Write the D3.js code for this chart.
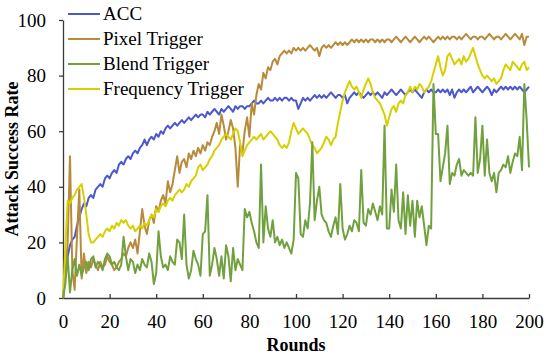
<!DOCTYPE html>
<html lang="en">

<head>
    <meta charset="UTF-8">
    <title>Attack Success Rate</title>
    <script src="https://d3js.org/d3.v7.min.js"></script>
    <style>
        body {
            margin: 0;
            background: #fff;
        }

        .axis text {
            font-family: "Liberation Serif", "Times New Roman", serif;
            font-size: 19px;
            fill: #000;
        }

        .axis path,
        .axis line {
            stroke: #3a3a3a;
            stroke-width: 1.3px;
        }

        .title {
            font-family: "Liberation Serif", "Times New Roman", serif;
            font-size: 18px;
            font-weight: bold;
        }

        .legend text {
            font-family: "Liberation Serif", "Times New Roman", serif;
            font-size: 19px;
        }

        .serie {
            fill: none;
            stroke-width: 2px;
            stroke-linejoin: round;
        }
    </style>
</head>

<body>
    <svg width="550" height="357"></svg>

    <script>
        // Datos (una posicion por ronda, 0..200)
        const xTicks = [0, 20, 40, 60, 80, 100, 120, 140, 160, 180, 200];
        const yTicks = [0, 20, 40, 60, 80, 100];

        const seriesNames = ["ACC", "Pixel Trigger", "Blend Trigger", "Frequency Trigger"];
        const seriesColors = ["#4b58cc", "#b78b3b", "#71a13e", "#d7d000"];

        const acc = [
            0, 8, 15, 19, 21, 22, 26, 29, 32, 34, 33, 36, 37, 36, 39, 40, 41, 40, 43, 44,
            43, 45, 46, 45, 48, 49, 48, 50, 51, 50, 52, 53, 52, 54, 55, 57, 55, 57, 58, 57,
            59, 58, 60, 59, 61, 62, 61, 62, 63, 62, 63, 64, 63, 64, 65, 64, 65, 66, 65, 66,
            66, 65, 67, 66, 67, 68, 67, 66, 68, 67, 68, 69, 68, 67, 69, 68, 69, 69, 68, 69,
            69, 70, 71, 70, 70, 71, 70, 71, 72, 71, 71, 72, 71, 72, 71, 72, 72, 71, 72, 71,
            71, 68, 70, 72, 71, 72, 71, 72, 73, 72, 73, 72, 73, 72, 73, 74, 73, 72, 73, 73,
            72, 73, 70, 72, 73, 74, 73, 74, 73, 72, 73, 74, 73, 74, 73, 74, 73, 72, 74, 73,
            74, 75, 74, 73, 74, 75, 74, 73, 74, 75, 74, 75, 74, 73, 72, 74, 75, 74, 75, 74,
            74, 75, 74, 75, 74, 75, 73, 75, 72, 74, 75, 74, 75, 74, 75, 76, 74, 75, 76, 75,
            74, 75, 76, 75, 73, 75, 74, 75, 76, 75, 76, 75, 76, 75, 76, 75, 76, 75, 74, 75,
            76
        ];

        const pixel = [
            0, 8, 20, 51, 10, 3, 22, 39, 7, 16, 9, 13, 11, 14, 12, 10, 13, 11, 12, 15,
            13, 12, 10, 11, 13, 14, 16, 15, 18, 20, 18, 21, 16, 24, 32, 26, 23, 28, 30, 27,
            33, 31, 35, 37, 34, 42, 38, 41, 46, 51, 45, 49, 50, 47, 52, 50, 53, 51, 54, 52,
            55, 53, 56, 55, 58, 60, 63, 59, 66, 62, 57, 60, 64, 61, 54, 40, 55, 52, 60, 65,
            58, 70, 66, 73, 77, 75, 81, 79, 83, 82, 85, 86, 84, 87, 88, 89, 88, 89, 88, 90,
            89, 90, 89, 90, 89, 90, 91, 90, 89, 90, 87, 90, 91, 90, 91, 90, 91, 92, 91, 92,
            91, 92, 91, 92, 93, 92, 93, 92, 93, 92, 93, 92, 93, 93, 92, 93, 92, 93, 92, 93,
            93, 92, 93, 94, 93, 92, 93, 94, 93, 92, 93, 94, 93, 92, 93, 94, 93, 94, 93, 92,
            93, 94, 93, 94, 93, 94, 93, 94, 94, 93, 94, 93, 94, 95, 94, 93, 94, 94, 93, 94,
            94, 93, 94, 95, 94, 93, 94, 94, 93, 94, 95, 94, 93, 94, 95, 94, 93, 95, 91, 94,
            94
        ];

        const blend = [
            0, 5, 15, 2, 10, 14, 8, 12, 8, 11, 13, 10, 14, 15, 11, 13, 12, 10, 14, 16,
            15, 12, 13, 11, 10, 12, 22, 15, 10, 14, 13, 9, 12, 10, 14, 12, 11, 16, 13, 5,
            9, 24, 15, 11, 12, 10, 15, 13, 12, 21, 20, 14, 30, 12, 7, 10, 17, 14, 12, 8,
            23, 24, 37, 8, 12, 18, 14, 8, 15, 7, 19, 15, 6, 18, 10, 14, 12, 10, 32, 29,
            31, 27, 24, 20, 18, 48, 20, 33, 25, 22, 28, 20, 22, 19, 21, 18, 20, 18, 16, 21,
            45, 43, 23, 22, 28, 25, 34, 56, 28, 35, 40, 30, 28, 27, 24, 22, 26, 29, 23, 41,
            25, 21, 23, 26, 24, 28, 27, 24, 46, 27, 26, 32, 30, 34, 31, 28, 33, 30, 62, 25,
            25, 39, 31, 48, 28, 25, 38, 23, 37, 26, 35, 22, 35, 29, 33, 26, 19, 26, 25, 77,
            59, 59, 42, 47, 52, 62, 41, 45, 44, 48, 50, 44, 46, 45, 44, 45, 44, 65, 45, 50,
            62, 44, 57, 45, 42, 45, 38, 45, 46, 48, 47, 51, 45, 49, 52, 51, 58, 46, 77, 64,
            47
        ];

        const frequency = [
            0, 18, 35, 34, 36, 37, 39, 40, 41, 36, 30, 23, 20, 20, 21, 22, 23, 22, 24, 25,
            24, 26, 25, 27, 26, 28, 27, 28, 26, 25, 26, 24, 25, 26, 25, 27, 26, 28, 30, 29,
            32, 31, 33, 34, 33, 35, 36, 35, 37, 38, 39, 38, 39, 41, 40, 42, 43, 44, 47, 48,
            46, 47, 48, 50, 51, 53, 54, 55, 57, 58, 59, 58, 57, 59, 61, 60, 56, 51, 53, 55,
            56, 57, 58, 57, 58, 59, 57, 58, 59, 60, 59, 58, 57, 55, 54, 55, 54, 56, 60, 63,
            61, 59, 60, 61, 60, 59, 57, 55, 54, 52, 53, 54, 56, 58, 57, 55, 57, 58, 63, 67,
            71, 74, 76, 78, 76, 75, 76, 74, 72, 75, 77, 79, 77, 74, 72, 71, 70, 68, 66, 62,
            65, 68, 69, 67, 70, 71, 70, 73, 74, 76, 74, 76, 75, 77, 76, 74, 75, 76, 78, 81,
            84, 87, 83, 80, 82, 87, 88, 86, 84, 85, 86, 84, 87, 85, 86, 88, 90, 87, 84, 82,
            80, 79, 80, 79, 78, 79, 77, 78, 79, 82, 84, 83, 82, 85, 84, 83, 82, 84, 85, 82,
            83
        ];

        // Orden de dibujo: Blend queda encima de todo
        const drawOrder = [0, 1, 3, 2];
        const allSeries = [acc, pixel, blend, frequency];

        const svg = d3.select("svg");

        // Escalas
        const x = d3.scaleLinear().domain([0, 200]).range([63, 529]);
        const y = d3.scaleLinear().domain([0, 100]).range([298, 20]);

        // Eje X (ticks hacia adentro)
        svg.append("g")
            .attr("class", "axis")
            .attr("transform", "translate(0,298)")
            .call(d3.axisBottom(x).tickValues(xTicks).tickSizeInner(-4).tickSizeOuter(0).tickPadding(17));

        // Eje Y (ticks hacia afuera)
        svg.append("g")
            .attr("class", "axis")
            .attr("transform", "translate(63,0)")
            .call(d3.axisLeft(y).tickValues(yTicks).tickSizeInner(4).tickSizeOuter(0).tickPadding(13));

        // Lineas
        const line = d3.line()
            .x((d, i) => x(i))
            .y(d => y(d));

        svg.append("g")
            .selectAll("path")
            .data(drawOrder)
            .enter().append("path")
            .attr("class", "serie")
            .attr("stroke", k => seriesColors[k])
            .attr("d", k => line(allSeries[k]));

        // Titulos de los ejes
        svg.append("text")
            .attr("class", "title")
            .attr("x", 296)
            .attr("y", 351)
            .attr("text-anchor", "middle")
            .text("Rounds");

        svg.append("text")
            .attr("class", "title")
            .attr("transform", "translate(18,159) rotate(-90)")
            .attr("text-anchor", "middle")
            .text("Attack Success Rate");

        // Leyenda
        const legend = svg.append("g")
            .attr("class", "legend")
            .selectAll("g")
            .data(seriesNames)
            .enter().append("g")
            .attr("transform", (d, i) => `translate(68,${14 + i * 25})`);

        legend.append("line")
            .attr("x1", 0)
            .attr("x2", 32)
            .attr("stroke", (d, i) => seriesColors[i])
            .attr("stroke-width", 2);

        legend.append("text")
            .attr("x", 35)
            .attr("dy", "0.33em")
            .text(d => d);
    </script>
</body>

</html>
